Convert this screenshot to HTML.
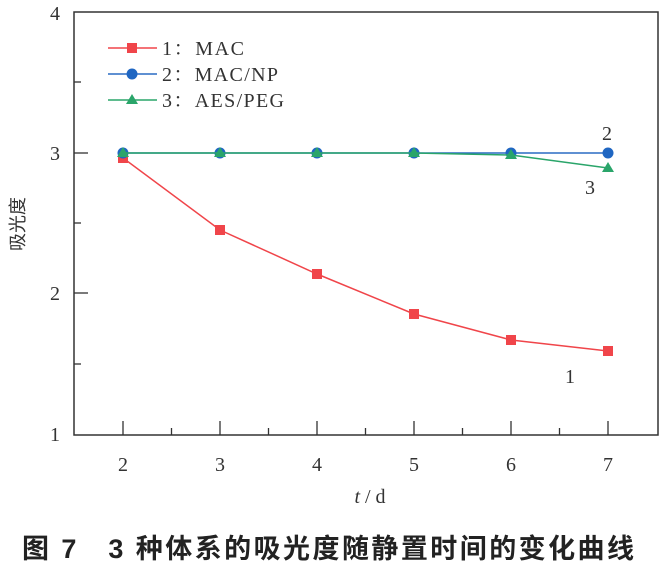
<!DOCTYPE html>
<html><head><meta charset="utf-8"><style>
body{margin:0;background:#fff;width:664px;height:564px;overflow:hidden}
</style></head><body>
<svg width="664" height="564" xmlns="http://www.w3.org/2000/svg" font-family="'Liberation Serif','Noto Serif CJK SC',serif">
<rect x="74" y="12" width="584" height="423" fill="none" stroke="#333" stroke-width="1.5"/>
<g stroke="#333" stroke-width="1.3">
<line x1="74" y1="153" x2="88" y2="153"/><line x1="74" y1="293" x2="88" y2="293"/>
<line x1="74" y1="82" x2="81" y2="82"/><line x1="74" y1="223" x2="81" y2="223"/><line x1="74" y1="364" x2="81" y2="364"/>
<line x1="123" y1="435" x2="123" y2="421"/><line x1="220" y1="435" x2="220" y2="421"/><line x1="317" y1="435" x2="317" y2="421"/><line x1="414" y1="435" x2="414" y2="421"/><line x1="511" y1="435" x2="511" y2="421"/><line x1="608" y1="435" x2="608" y2="421"/>
<line x1="171.5" y1="435" x2="171.5" y2="428"/><line x1="268.5" y1="435" x2="268.5" y2="428"/><line x1="365.5" y1="435" x2="365.5" y2="428"/><line x1="462.5" y1="435" x2="462.5" y2="428"/><line x1="559.5" y1="435" x2="559.5" y2="428"/>
</g>
<g font-size="20" fill="#333" text-anchor="middle">
<text x="55" y="20">4</text><text x="55" y="160">3</text><text x="55" y="300">2</text><text x="55" y="441">1</text>
<text x="123" y="471">2</text><text x="220" y="471">3</text><text x="317" y="471">4</text><text x="414" y="471">5</text><text x="511" y="471">6</text><text x="608" y="471">7</text>
<text x="370" y="503"><tspan font-style="italic">t</tspan> / d</text>
</g>
<text transform="translate(24,224) rotate(-90)" font-size="18" fill="#333" text-anchor="middle" font-family="'Noto Sans CJK SC',sans-serif">吸光度</text>
<polyline points="123,158 220,230 317,274 414,314 511,340 608,351" fill="none" stroke="#f0454a" stroke-width="1.5"/>
<g fill="#f0454a"><rect x="118" y="153" width="10" height="10"/><rect x="215" y="225" width="10" height="10"/><rect x="312" y="269" width="10" height="10"/><rect x="409" y="309" width="10" height="10"/><rect x="506" y="335" width="10" height="10"/><rect x="603" y="346" width="10" height="10"/></g>
<polyline points="123,153 608,153" fill="none" stroke="#2a6cc4" stroke-width="1.5"/>
<g fill="#1f66c2"><circle cx="123" cy="153" r="5.5"/><circle cx="220" cy="153" r="5.5"/><circle cx="317" cy="153" r="5.5"/><circle cx="414" cy="153" r="5.5"/><circle cx="511" cy="153" r="5.5"/><circle cx="608" cy="153" r="5.5"/></g>
<polyline points="123,153 220,153 317,153 414,153 511,155 608,168" fill="none" stroke="#2aa56a" stroke-width="1.5"/>
<g fill="#2aa56a"><path d="M123,147l6,10h-12z"/><path d="M220,147l6,10h-12z"/><path d="M317,147l6,10h-12z"/><path d="M414,147l6,10h-12z"/><path d="M511,149l6,10h-12z"/><path d="M608,162l6,10h-12z"/></g>
<g font-size="20" fill="#333"><text x="162" y="55" textLength="82">1：MAC</text><text x="162" y="81" textLength="116">2：MAC/NP</text><text x="162" y="107" textLength="122">3：AES/PEG</text></g>
<g font-size="20" fill="#333"><text x="602" y="140">2</text><text x="585" y="194">3</text><text x="565" y="383">1</text></g>
<line x1="108" y1="48" x2="157" y2="48" stroke="#f0454a" stroke-width="1.5"/><rect x="127" y="43" width="10" height="10" fill="#f0454a"/>
<line x1="108" y1="74" x2="157" y2="74" stroke="#2a6cc4" stroke-width="1.5"/><circle cx="132" cy="74" r="5.5" fill="#1f66c2"/>
<line x1="108" y1="100" x2="157" y2="100" stroke="#2aa56a" stroke-width="1.5"/><path d="M132,94l6,10h-12z" fill="#2aa56a"/>
<text x="22" y="558" font-size="27" font-weight="bold" fill="#222" font-family="'Liberation Sans','Noto Sans CJK SC',sans-serif" textLength="612" lengthAdjust="spacing">图 7　3 种体系的吸光度随静置时间的变化曲线</text>
</svg>
</body></html>
